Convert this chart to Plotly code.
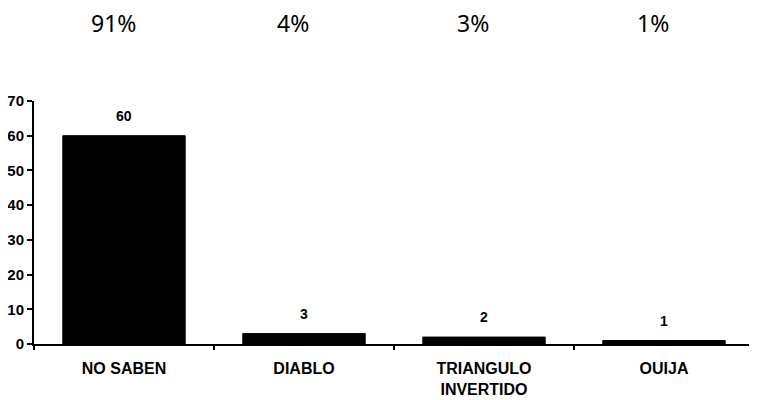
import plotly.graph_objects as go

categories = ["NO SABEN", "DIABLO", "TRIANGULO<br>INVERTIDO", "OUIJA"]
values = [60, 3, 2, 1]
percent_labels = ["91%", "4%", "3%", "1%"]
y_ticks = [0, 10, 20, 30, 40, 50, 60, 70]

fig = go.Figure()
fig.add_trace(go.Bar(
    x=categories, y=values,
    marker=dict(color="black", line=dict(color="black", width=1)),
    width=0.68,
    showlegend=False,
))

for c, v in zip(categories, values):
    fig.add_annotation(x=c, y=v, xref="x", yref="y", text=str(v), showarrow=False,
                       yanchor="bottom", yshift=10,
                       font=dict(family="Liberation Sans, Arial", size=14, color="black", weight="bold"))

for c, p in zip(categories, percent_labels):
    fig.add_annotation(x=c, y=1.0, xref="x", yref="paper", text=p, showarrow=False,
                       yanchor="middle", yshift=78, xshift=-11,
                       font=dict(family="Noto Sans", size=23, color="black"))

# the page body has an 8px margin, so the figure is made 8px smaller
fig.update_layout(
    width=749, height=392,
    margin=dict(l=26, r=3, t=93, b=56),
    paper_bgcolor="white", plot_bgcolor="white",
    bargap=0.32,
)
fig.update_xaxes(
    showline=True, linecolor="black", linewidth=1.5,
    ticks="outside", ticklen=4, tickcolor="black", tickwidth=1.5,
    tickson="boundaries", showgrid=False, automargin=False,
    tickfont=dict(family="Liberation Sans, Arial", size=16, color="black", weight="bold"),
    ticklabelstandoff=9,
)
fig.update_yaxes(
    range=[0, 70], tickvals=y_ticks,
    showline=True, linecolor="black", linewidth=2,
    ticks="outside", ticklen=5, tickcolor="black", tickwidth=1.5,
    showgrid=False, zeroline=False, automargin=False,
    tickfont=dict(family="Liberation Sans, Arial", size=15, color="black", weight="bold"),
)

fig.write_html("out.html")
